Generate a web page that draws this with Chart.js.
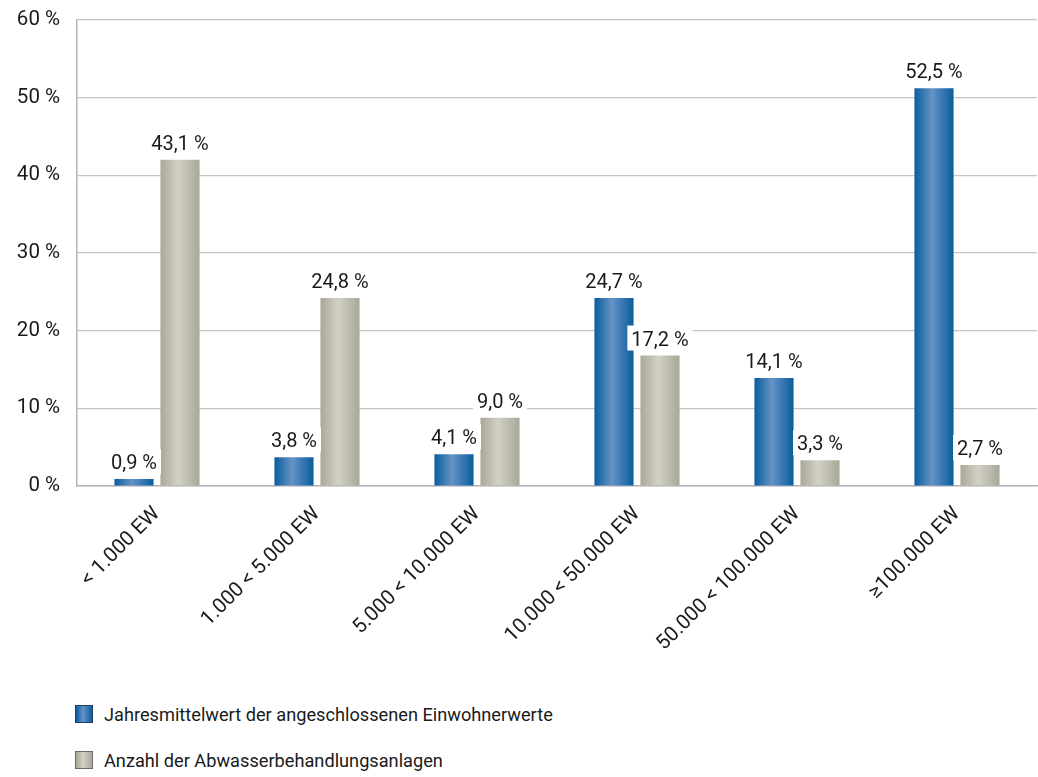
<!DOCTYPE html>
<html lang="de">
<head>
<meta charset="utf-8">
<title>Abwasserbehandlungsanlagen nach Größenklassen</title>
<script src="https://cdn.jsdelivr.net/npm/chart.js@4.4.1/dist/chart.umd.min.js"></script>
<style>
  html, body { margin: 0; padding: 0; background: #fff; }
  body { width: 1038px; height: 777px; overflow: hidden; font-family: Roboto, "Noto Sans", sans-serif; color: #1a1a1a; }
  #chart-wrap { position: relative; width: 1038px; height: 680px; }
  #legend { position: absolute; left: 75px; top: 703px; font-size: 18.2px; }
  .legend-item { display: flex; align-items: center; height: 22px; margin-bottom: 24px; }
  .legend-box { width: 16px; height: 16px; margin-right: 11px; border: 1px solid #555; }
  .box-blue { background: linear-gradient(90deg, #0a5c9e, #6593c6 45%, #0a5c9e); border-color: #1c3d66; }
  .box-grey { background: linear-gradient(90deg, #a9a797, #d1d1c5 45%, #a9a797); border-color: #6f6e66; }
</style>
</head>
<body>
<div id="chart-wrap"><canvas id="chart"></canvas></div>
<div id="legend">
  <div class="legend-item"><span class="legend-box box-blue"></span>Jahresmittelwert der angeschlossenen Einwohnerwerte</div>
  <div class="legend-item"><span class="legend-box box-grey"></span>Anzahl der Abwasserbehandlungsanlagen</div>
</div>
<script>
// Größenklassen
const categories = ['< 1.000 EW', '1.000 < 5.000 EW', '5.000 < 10.000 EW', '10.000 < 50.000 EW', '50.000 < 100.000 EW', '≥100.000 EW'];

// Balkenhöhen wie im Bild gemessen (%)
const einwohnerValues = [0.9, 3.7, 4.1, 24.2, 13.9, 51.2];
const anlagenValues = [42.0, 24.2, 8.8, 16.8, 3.3, 2.7];

// Beschriftungen über den Balken
const einwohnerLabels = ['0,9 %', '3,8 %', '4,1 %', '24,7 %', '14,1 %', '52,5 %'];
const anlagenLabels = ['43,1 %', '24,8 %', '9,0 %', '17,2 %', '3,3 %', '2,7 %'];

// y-Achse
const yMin = 0;
const yMax = 60;
const yStep = 10;

const textColor = '#1a1a1a';
const fontFamily = 'Roboto, "Noto Sans", sans-serif';

const gradientStops = [
    ['#0a5c9e', '#6593c6', '#0a5c9e'],
    ['#a9a797', '#d1d1c5', '#a9a797']
];

// Verlauf quer über jeden Balken (eigene options je Balken, da sonst geteilt)
const barGradient = {
    id: 'barGradient',
    beforeDatasetsDraw(chart) {
        const ctx = chart.ctx;
        chart.data.datasets.forEach((ds, i) => {
            const stops = gradientStops[i];
            chart.getDatasetMeta(i).data.forEach(bar => {
                const left = bar.x - bar.width / 2;
                const g = ctx.createLinearGradient(left, 0, left + bar.width, 0);
                g.addColorStop(0, stops[0]);
                g.addColorStop(0.45, stops[1]);
                g.addColorStop(1, stops[2]);
                bar.options = Object.assign({}, bar.options, { backgroundColor: g });
            });
        });
    }
};

// Werte über den Balken, mit weißem Hintergrund
const valueLabels = {
    id: 'valueLabels',
    afterDatasetsDraw(chart) {
        const ctx = chart.ctx;
        const allLabels = [einwohnerLabels, anlagenLabels];
        ctx.save();
        ctx.font = '20px ' + fontFamily;
        ctx.textAlign = 'center';
        ctx.textBaseline = 'alphabetic';
        chart.data.datasets.forEach((ds, i) => {
            chart.getDatasetMeta(i).data.forEach((bar, j) => {
                const txt = allLabels[i][j];
                const w = ctx.measureText(txt).width;
                const base = bar.y - 10;
                ctx.fillStyle = '#fff';
                ctx.fillRect(bar.x - w / 2 - 4, base - 20, w + 8, 25);
                ctx.fillStyle = textColor;
                ctx.fillText(txt, bar.x, base);
            });
        });
        ctx.restore();
    }
};

const ctx = document.getElementById('chart').getContext('2d');

new Chart(ctx, {
    type: 'bar',
    data: {
        labels: categories,
        datasets: [
            {
                label: 'Jahresmittelwert der angeschlossenen Einwohnerwerte',
                data: einwohnerValues,
                backgroundColor: '#0a5c9e'
            },
            {
                label: 'Anzahl der Abwasserbehandlungsanlagen',
                data: anlagenValues,
                backgroundColor: '#a9a797'
            }
        ]
    },
    options: {
        responsive: true,
        maintainAspectRatio: false,
        animation: false,
        layout: { padding: { top: 20, right: 1, left: 0, bottom: 0 } },
        datasets: {
            bar: { categoryPercentage: 0.575, barPercentage: 0.85 }
        },
        scales: {
            x: {
                grid: { display: false, drawTicks: false },
                border: { color: '#b5b5b5', width: 1.5 },
                ticks: {
                    color: textColor,
                    font: { family: fontFamily, size: 20.5 },
                    minRotation: 45,
                    maxRotation: 45,
                    padding: 16
                },
                afterFit(scale) { scale.height = 194; }
            },
            y: {
                min: yMin,
                max: yMax,
                grid: { color: '#c4c4c4', lineWidth: 1.2, drawTicks: false },
                border: { color: '#b5b5b5', width: 1.5 },
                ticks: {
                    stepSize: yStep,
                    color: textColor,
                    font: { family: fontFamily, size: 20.5 },
                    padding: 17,
                    callback: v => v + ' %'
                },
                afterFit(scale) {
                    scale.width = 77;
                    scale.paddingTop = 0;
                    scale.paddingBottom = 0;
                }
            }
        },
        plugins: {
            legend: { display: false },
            tooltip: { enabled: false }
        }
    },
    plugins: [barGradient, valueLabels]
});
</script>
</body>
</html>
